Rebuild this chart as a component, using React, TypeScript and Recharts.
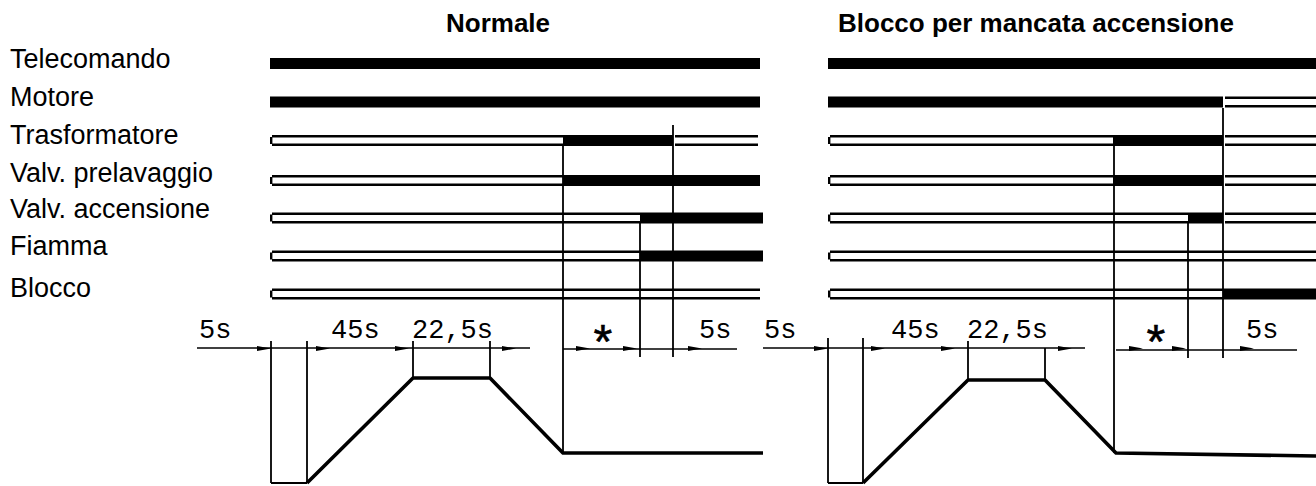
import React from "react";
import {
  ComposedChart,
  XAxis,
  YAxis,
  ReferenceArea,
  ReferenceLine,
  Line,
  Scatter,
} from "recharts";

// ---- Data (schematic timeline positions) ----
const SIGNALS = [
  "Telecomando",
  "Motore",
  "Trasformatore",
  "Valv. prelavaggio",
  "Valv. accensione",
  "Fiamma",
  "Blocco",
];
const ROW_CENTER = [63.5, 102, 140.5, 180.5, 218, 256, 294];
const LABEL_BASELINE = [68, 106, 144, 182, 218, 255, 297];

const PANEL_TITLES = ["Normale", "Blocco per mancata accensione"];
const TITLE_X = [446, 838];

// bar segments per signal: [from, to, on(1)/off(0)]
const NORMALE_BARS = [
  [[270, 760, 1]],
  [[270, 760, 1]],
  [[270, 563, 0], [563, 673, 1], [673, 758, 0]],
  [[270, 563, 0], [563, 760, 1]],
  [[270, 640, 0], [640, 763, 1]],
  [[270, 640, 0], [640, 763, 1]],
  [[270, 760, 0]],
];
const BLOCCO_BARS = [
  [[828, 1316, 1]],
  [[828, 1223, 1], [1223, 1316, 0]],
  [[828, 1113, 0], [1113, 1223, 1], [1223, 1316, 0]],
  [[828, 1113, 0], [1113, 1223, 1], [1223, 1316, 0]],
  [[828, 1188, 0], [1188, 1223, 1], [1223, 1316, 0]],
  [[828, 1316, 0]],
  [[828, 1223, 0], [1223, 1316, 1]],
];

// air / pressure profile (thick line)
const NORMALE_PROFILE = [
  { x: 307, y: 483 },
  { x: 413, y: 378 },
  { x: 490, y: 378 },
  { x: 563, y: 453 },
  { x: 763, y: 453 },
];
const BLOCCO_PROFILE = [
  { x: 863, y: 483 },
  { x: 968, y: 380 },
  { x: 1045, y: 380 },
  { x: 1116, y: 453 },
  { x: 1316, y: 456 },
];

// vertical marker lines: [t, from, to]
const NORMALE_MARKS = [
  [271, 341, 483],
  [307, 341, 483],
  [413, 341, 378],
  [490, 341, 378],
  [563, 146, 453],
  [640, 223, 357],
  [673, 125, 357],
];
const BLOCCO_MARKS = [
  [828, 338, 483],
  [863, 338, 483],
  [968, 341, 380],
  [1045, 348, 380],
  [1114, 146, 453],
  [1188, 223, 358],
  [1223, 108, 358],
];
// pre-purge bottom links: [from, to, level]
const BOTTOM_LINKS = [
  [271, 307, 483],
  [828, 863, 483],
];
// dimension lines: [from, to, level]
const DIM_LINES = [
  [197, 530, 348],
  [563, 737, 349],
  [763, 1085, 348],
  [1116, 1297, 350],
];
const DIM_LEVEL = 348.5;
const ARROW_TIPS = [271, 330, 409, 516, 590, 637, 702, 828, 885, 955, 1072, 1143, 1186, 1254];

const TIME_LABELS = ["5s", "45s", "22,5s", "*", "5s", "5s", "45s", "22,5s", "*", "5s"];
const TIME_LABEL_X = [200, 332, 413, 603, 700, 765, 892, 968, 1156, 1247];

// ---- derived tables ----
const SANS = "'Liberation Sans', Arial, Helvetica, sans-serif";
const MONO = "'Liberation Mono', 'Courier New', monospace";

const labelPts = SIGNALS.map((s, i) => ({ x: 10, y: LABEL_BASELINE[i], text: s }));
const titlePts = PANEL_TITLES.map((s, i) => ({ x: TITLE_X[i], y: 32, text: s }));
const timePts = TIME_LABELS.map((s, i) => ({ x: TIME_LABEL_X[i], y: 338, text: s }));
const arrowPts = ARROW_TIPS.map((x) => ({ x, y: DIM_LEVEL }));

const HALF = 5.5;

function barElements(bars: number[][][], key: string) {
  const out: any[] = [];
  bars.forEach((segs, i) => {
    const c = ROW_CENTER[i];
    segs.forEach((seg, j) => {
      const [a, b, on] = seg;
      if (on) {
        out.push(
          <ReferenceArea
            key={`${key}-f-${i}-${j}`}
            x1={a}
            x2={b}
            y1={c - HALF}
            y2={c + HALF}
            fill="#000"
            fillOpacity={1}
            stroke="none"
            ifOverflow="visible"
          />
        );
      } else {
        out.push(
          <ReferenceLine
            key={`${key}-t-${i}-${j}`}
            segment={[{ x: a + 2, y: c - HALF + 1.2 }, { x: b, y: c - HALF + 1.2 }]}
            stroke="#000"
            strokeWidth={2.4}
            ifOverflow="visible"
          />
        );
        out.push(
          <ReferenceLine
            key={`${key}-b-${i}-${j}`}
            segment={[{ x: a + 2, y: c + HALF - 1.2 }, { x: b, y: c + HALF - 1.2 }]}
            stroke="#000"
            strokeWidth={2.4}
            ifOverflow="visible"
          />
        );
        if (j === 0) {
          out.push(
            <ReferenceLine
              key={`${key}-c-${i}-${j}`}
              segment={[{ x: a + 1.2, y: c - HALF + 2 }, { x: a + 1.2, y: c + HALF - 2 }]}
              stroke="#000"
              strokeWidth={2.4}
              ifOverflow="visible"
            />
          );
        }
      }
    });
  });
  return out;
}

function markElements(marks: number[][], key: string) {
  return marks.map((m, i) => (
    <ReferenceLine
      key={`${key}-m-${i}`}
      segment={[{ x: m[0], y: m[1] }, { x: m[0], y: m[2] }]}
      stroke="#000"
      strokeWidth={1.8}
      ifOverflow="visible"
    />
  ));
}

const LabelShape = (p: any) => (
  <text x={p.cx} y={p.cy} fontFamily={SANS} fontSize={27} fill="#000">
    {p.payload.text}
  </text>
);
const TitleShape = (p: any) => (
  <text x={p.cx} y={p.cy} fontFamily={SANS} fontSize={26} fontWeight="bold" fill="#000">
    {p.payload.text}
  </text>
);
const TimeShape = (p: any) => {
  if (p.payload.text === "*") {
    return (
      <text
        x={p.cx}
        y={p.cy + 22}
        fontFamily={MONO}
        fontSize={48}
        textAnchor="middle"
        fill="#000"
        stroke="#000"
        strokeWidth={0.6}
      >
        *
      </text>
    );
  }
  return (
    <text x={p.cx - 1} y={p.cy} fontFamily={MONO} fontSize={27} fill="#000">
      {p.payload.text}
    </text>
  );
};
const ArrowShape = (p: any) => (
  <polygon
    points={`${p.cx},${p.cy} ${p.cx - 14},${p.cy - 2.6} ${p.cx - 14},${p.cy + 2.6}`}
    fill="#000"
  />
);

export default function App() {
  return (
    <div style={{ position: "absolute", left: 0, top: 0, width: 1316, height: 486, background: "#fff" }}>
      <ComposedChart width={1316} height={486} margin={{ top: 0, right: 0, bottom: 0, left: 0 }}>
        <XAxis type="number" dataKey="x" domain={[0, 1316]} hide allowDataOverflow />
        <YAxis type="number" dataKey="y" domain={[0, 486]} reversed hide allowDataOverflow />

        {barElements(NORMALE_BARS, "n")}
        {barElements(BLOCCO_BARS, "b")}
        {markElements(NORMALE_MARKS, "n")}
        {markElements(BLOCCO_MARKS, "b")}
        {BOTTOM_LINKS.map((l, i) => (
          <ReferenceLine
            key={`bl-${i}`}
            segment={[{ x: l[0], y: l[2] }, { x: l[1], y: l[2] }]}
            stroke="#000"
            strokeWidth={2}
            ifOverflow="visible"
          />
        ))}
        {DIM_LINES.map((l, i) => (
          <ReferenceLine
            key={`dl-${i}`}
            segment={[{ x: l[0], y: l[2] }, { x: l[1], y: l[2] }]}
            stroke="#000"
            strokeWidth={1.6}
            ifOverflow="visible"
          />
        ))}

        <Line
          data={NORMALE_PROFILE}
          dataKey="y"
          type="linear"
          stroke="#000"
          strokeWidth={3.6}
          dot={false}
          activeDot={false}
          isAnimationActive={false}
          strokeLinejoin="round"
        />
        <Line
          data={BLOCCO_PROFILE}
          dataKey="y"
          type="linear"
          stroke="#000"
          strokeWidth={3.6}
          dot={false}
          activeDot={false}
          isAnimationActive={false}
          strokeLinejoin="round"
        />

        <Scatter data={arrowPts} shape={ArrowShape} isAnimationActive={false} />
        <Scatter data={labelPts} shape={LabelShape} isAnimationActive={false} />
        <Scatter data={titlePts} shape={TitleShape} isAnimationActive={false} />
        <Scatter data={timePts} shape={TimeShape} isAnimationActive={false} />
      </ComposedChart>
    </div>
  );
}
